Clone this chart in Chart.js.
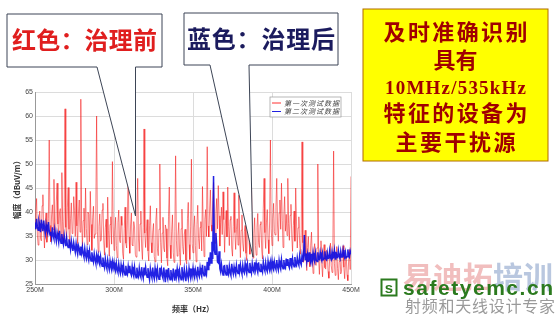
<!DOCTYPE html>
<html>
<head>
<meta charset="utf-8">
<script src="https://cdn.jsdelivr.net/npm/chart.js@4"></script>
<style>
  html, body { margin: 0; padding: 0; background: #fff; }
  #wrap { position: relative; width: 557px; height: 314px; overflow: hidden; }
  #chart { position: absolute; left: 0; top: 0; }
  #overlay { position: absolute; left: 0; top: 0; }
</style>
</head>
<body>
<div id="wrap">
  <canvas id="chart" width="557" height="314"></canvas>
  <svg id="overlay" width="557" height="314" xmlns="http://www.w3.org/2000/svg">
    <!-- callout: red -->
    <path d="M7,14 H162 V67 H135.5 L135.5,216 L97,67 H7 Z" fill="#fff" stroke="#3d4556" stroke-width="1"/>
    <text x="84.5" y="49" text-anchor="middle" font-family="Noto Sans CJK SC" font-weight="bold" font-size="24" fill="#e01e1e" textLength="145">红色：治理前</text>
    <!-- callout: blue -->
    <path d="M184,13 H338 V65 H249 L253,257 L210,65 H184 Z" fill="#fff" stroke="#3d4556" stroke-width="1"/>
    <text x="261" y="48" text-anchor="middle" font-family="Noto Sans CJK SC" font-weight="bold" font-size="24" fill="#1b1b5e" textLength="148">蓝色：治理后</text>

    <!-- legend -->
    <rect x="270" y="97" width="71" height="20" fill="#fff" stroke="#999" stroke-width="0.7"/>
    <line x1="272" y1="103" x2="281" y2="103" stroke="#ff3030" stroke-width="1"/>
    <line x1="272" y1="111.5" x2="281" y2="111.5" stroke="#2020e0" stroke-width="1"/>
    <text x="284" y="105.5" font-family="Noto Sans CJK SC" font-size="7" font-style="italic" fill="#444" textLength="55">第一次测试数据</text>
    <text x="284" y="114" font-family="Noto Sans CJK SC" font-size="7" font-style="italic" fill="#444" textLength="55">第二次测试数据</text>

    <!-- yellow note -->
    <rect x="363" y="9" width="185" height="152" fill="#ffff00" stroke="#b06a00" stroke-width="1"/>
    <g font-family="Noto Sans CJK SC" font-weight="bold" font-size="22" fill="#a00000" text-anchor="middle">
      <text x="455.5" y="40" textLength="144">及时准确识别</text>
      <text x="455.5" y="68">具有</text>
      <text x="455.5" y="121" textLength="144">特征的设备为</text>
      <text x="455.5" y="150" textLength="120">主要干扰源</text>
    </g>
    <text x="455.5" y="94" text-anchor="middle" font-family="Liberation Serif" font-weight="bold" font-size="19" fill="#a00000" textLength="141">10MHz/535kHz</text>

    <!-- watermark -->
    <text x="403" y="288" font-family="Noto Sans CJK SC" font-weight="bold" font-size="30" fill="rgba(225,110,110,0.45)" textLength="90">易迪拓</text>
    <text x="493" y="288" font-family="Noto Sans CJK SC" font-weight="bold" font-size="30" fill="rgba(100,130,185,0.45)" textLength="60">培训</text>
    <rect x="381.5" y="279.5" width="15" height="16" fill="#fff" stroke="#2b7a1e" stroke-width="2"/>
    <text x="389" y="293" text-anchor="middle" font-family="Liberation Sans" font-weight="bold" font-size="15" fill="#2b7a1e">s</text>
    <text x="403" y="295" font-family="Liberation Sans" font-weight="bold" font-size="21" fill="#2b7a1e" textLength="150">safetyemc.cn</text>
    <text x="405" y="312" font-family="Noto Sans CJK SC" font-size="16" fill="#9a9a9a" textLength="150">射频和天线设计专家</text>
  </svg>
</div>
<script>
// frequency grid: 250M .. 450M, 0.5 MHz per sample
const startMHz = 250;
const stepMHz = 0.5;
const xTicks = [250, 300, 350, 400, 450];
const yTicks = [25, 30, 35, 40, 45, 50, 55, 60, 65];

// 第一次测试数据 (red, before) - one row per 10 MHz
const redDb = [
  36.5, 40.1, 42.8, 35.2, 33.1, 38.4, 40.2, 34.6, 34.0, 41.3, 43.6, 36.0, 32.5, 37.9, 39.8, 33.7, 35.2, 38.6, 55.0, 37.2,
  33.8, 39.4, 41.5, 36.3, 46.8, 35.0, 34.6, 42.1, 46.0, 37.5, 35.1, 39.8, 40.7, 34.3, 48.2, 38.0, 33.5, 40.9, 61.5, 36.8,
  34.2, 41.0, 45.1, 36.4, 32.8, 38.7, 41.9, 35.5, 36.0, 43.2, 40.3, 34.9, 46.2, 37.1, 33.4, 39.6, 42.5, 35.8, 63.5, 38.3,
  32.9, 38.2, 40.8, 34.7, 45.0, 36.6, 33.2, 40.0, 39.5, 33.8, 44.3, 37.4, 32.0, 38.8, 41.2, 34.5, 35.4, 40.6, 60.0, 35.9,
  31.6, 37.0, 39.6, 33.9, 34.2, 40.4, 41.8, 34.1, 31.0, 36.7, 38.5, 32.6, 43.1, 36.2, 30.8, 37.4, 39.0, 33.3, 50.5, 36.9,
  32.0, 36.1, 38.9, 33.0, 30.5, 37.8, 40.4, 34.2, 33.6, 39.1, 37.2, 31.4, 30.2, 36.6, 41.0, 33.5, 32.5, 38.3, 50.0, 34.8,
  31.4, 37.3, 39.8, 33.1, 33.0, 38.0, 36.9, 31.2, 30.6, 40.5, 47.0, 34.4, 31.8, 37.5, 40.2, 32.7, 30.1, 36.8, 57.3, 35.6,
  32.6, 36.0, 38.4, 31.9, 29.8, 37.1, 41.3, 33.6, 31.5, 35.8, 37.6, 30.7, 29.6, 38.2, 40.8, 32.3, 30.9, 36.4, 50.0, 33.7,
  29.4, 35.6, 38.9, 32.5, 31.7, 37.3, 36.5, 30.4, 28.8, 39.0, 45.2, 33.1, 30.3, 36.0, 39.4, 31.6, 29.5, 35.9, 51.7, 34.0,
  30.8, 35.1, 37.8, 31.6, 28.9, 36.5, 40.6, 32.8, 31.2, 35.4, 36.4, 30.0, 29.2, 38.6, 42.0, 33.2, 30.1, 36.9, 51.0, 33.4,
  31.5, 36.7, 39.2, 33.0, 29.6, 37.4, 41.4, 34.5, 32.3, 36.8, 38.0, 31.9, 45.3, 36.2, 30.7, 38.5, 40.5, 34.9, 53.6, 37.1,
  34.8, 40.2, 44.6, 37.3, 36.0, 42.4, 46.2, 38.1, 33.5, 39.7, 42.8, 36.5, 45.5, 39.2, 32.9, 37.8, 41.0, 35.3, 44.2, 38.4,
  31.6, 37.5, 40.3, 34.8, 45.2, 36.9, 33.0, 38.4, 39.1, 32.5, 30.8, 37.0, 44.0, 35.7, 32.2, 36.3, 38.6, 33.1, 43.5, 35.4,
  30.5, 36.2, 39.4, 33.5, 31.8, 35.9, 37.2, 31.4, 29.9, 37.7, 40.1, 33.8, 31.2, 39.5, 46.0, 34.6, 30.4, 35.5, 38.8, 33.0,
  31.0, 36.8, 39.7, 33.6, 32.6, 37.4, 38.0, 32.1, 30.2, 40.8, 47.0, 35.7, 32.4, 37.9, 40.5, 34.2, 31.3, 38.1, 55.0, 36.5,
  33.0, 38.6, 41.8, 35.9, 35.2, 41.0, 47.0, 37.3, 33.9, 39.8, 42.5, 36.4, 46.0, 38.2, 32.6, 39.4, 43.2, 36.0, 39.5, 35.1,
  47.0, 37.6, 34.1, 39.3, 41.6, 35.0, 31.8, 37.2, 40.2, 33.9, 45.0, 38.1, 32.5, 36.7, 39.0, 33.4, 31.2, 35.8, 54.6, 33.6,
  29.5, 33.8, 36.2, 30.9, 27.8, 32.6, 34.9, 29.7, 28.6, 33.1, 35.8, 30.4, 27.2, 31.9, 33.4, 29.0, 28.9, 32.5, 50.0, 30.2,
  27.0, 31.5, 34.0, 29.1, 26.5, 30.8, 33.2, 28.4, 28.1, 32.0, 31.6, 27.6, 26.2, 30.5, 33.5, 28.8, 27.4, 31.3, 52.7, 29.3,
  26.8, 30.6, 32.8, 28.2, 25.9, 29.7, 31.4, 27.1, 27.6, 31.8, 33.0, 28.5, 26.1, 29.4, 30.8, 26.9, 25.7, 29.9, 32.2, 28.0,
  47.4
];

// 第二次测试数据 (blue, after) - one row per 10 MHz
const blueDb = [
  37.8, 36.4, 38.6, 36.9, 36.2, 38.1, 37.3, 35.8, 38.4, 37.0, 36.0, 38.2, 36.7, 35.5, 37.4, 36.3, 35.6, 37.9, 36.1, 35.2,
  35.9, 34.6, 36.8, 35.1, 34.4, 36.3, 35.0, 33.9, 35.7, 34.8, 33.7, 36.1, 34.2, 33.5, 35.4, 34.0, 33.2, 35.1, 33.8, 32.9,
  34.6, 33.1, 32.6, 34.3, 33.4, 32.2, 34.0, 32.8, 31.9, 33.6, 32.5, 31.6, 33.4, 32.1, 31.2, 33.0, 32.4, 31.1, 32.8, 31.5,
  32.7, 31.3, 30.6, 32.4, 31.0, 30.3, 32.1, 30.8, 30.0, 31.9, 30.5, 29.8, 31.6, 30.4, 29.6, 31.3, 30.1, 29.3, 31.0, 29.8,
  30.9, 29.5, 29.0, 30.7, 29.4, 28.7, 30.5, 29.1, 28.4, 30.3, 28.9, 28.2, 30.0, 28.8, 28.0, 29.8, 28.6, 27.9, 29.6, 28.4,
  29.5, 28.1, 27.6, 29.3, 28.0, 27.4, 29.2, 27.9, 27.2, 29.0, 27.8, 27.1, 28.9, 27.6, 26.9, 28.8, 27.5, 27.0, 28.7, 27.4,
  28.8, 27.3, 26.8, 28.6, 27.2, 26.6, 28.5, 27.1, 26.3, 28.4, 27.0, 26.5, 28.3, 26.9, 26.4, 28.5, 27.0, 26.2, 28.4, 26.8,
  28.5, 27.1, 26.4, 28.3, 26.9, 25.9, 28.2, 27.0, 26.3, 28.4, 26.8, 26.1, 28.3, 27.0, 26.2, 28.1, 26.7, 26.0, 28.4, 27.2,
  28.1, 26.7, 26.2, 28.4, 26.9, 25.4, 28.0, 26.8, 26.1, 28.3, 26.6, 25.9, 27.9, 26.5, 26.0, 28.2, 26.8, 25.7, 28.0, 26.6,
  28.2, 26.8, 26.0, 27.8, 26.6, 25.9, 28.5, 26.9, 26.2, 28.1, 26.7, 25.6, 28.0, 26.9, 26.1, 28.3, 27.0, 26.2, 28.2, 26.8,
  28.3, 26.9, 26.3, 28.0, 27.1, 26.4, 28.6, 27.0, 26.5, 28.4, 27.2, 26.6, 29.0, 27.3, 26.7, 28.8, 27.4, 26.9, 29.6, 28.0,
  30.5, 28.8, 31.6, 29.4, 33.8, 30.2, 47.5, 32.0, 31.2, 35.6, 33.0, 29.6, 29.4, 31.8, 28.2, 27.5, 29.1, 27.8, 26.9, 28.7,
  28.8, 27.4, 26.9, 29.0, 27.6, 27.0, 28.7, 27.4, 26.8, 29.2, 27.9, 27.1, 28.6, 27.5, 26.9, 28.9, 27.7, 27.2, 29.1, 27.6,
  29.0, 27.8, 27.1, 28.9, 27.7, 27.3, 29.3, 28.0, 27.2, 29.1, 27.9, 27.4, 29.4, 28.1, 27.3, 29.2, 27.9, 27.5, 29.5, 28.0,
  29.3, 28.1, 27.4, 29.5, 28.0, 27.6, 29.2, 28.2, 27.5, 29.6, 28.3, 27.7, 29.4, 28.1, 27.6, 29.7, 28.4, 27.8, 29.5, 28.2,
  29.8, 28.3, 27.9, 29.6, 28.5, 28.0, 30.0, 28.6, 27.9, 29.9, 28.7, 28.1, 30.1, 28.8, 28.2, 30.0, 28.6, 28.3, 30.3, 28.9,
  30.2, 28.9, 28.4, 30.4, 29.0, 28.5, 30.3, 29.2, 28.6, 30.6, 29.1, 28.8, 30.5, 29.4, 28.9, 30.8, 29.5, 29.0, 30.9, 29.6,
  31.0, 35.2, 30.1, 31.4, 29.7, 31.1, 29.6, 31.6, 30.0, 29.4, 31.3, 29.8, 31.5, 30.2, 29.6, 31.4, 30.0, 29.7, 31.6, 30.2,
  30.1, 31.6, 30.4, 29.9, 31.4, 30.1, 30.3, 31.8, 30.2, 30.0, 31.5, 30.3, 30.4, 31.9, 30.5, 30.1, 31.7, 30.4, 30.6, 32.0,
  30.2, 31.7, 30.6, 30.5, 32.0, 30.7, 30.3, 31.8, 30.6, 30.6, 32.1, 30.8, 30.4, 31.6, 30.5, 30.7, 32.2, 30.9, 30.6, 31.9,
  31.2
];

function toPoints(values) {
  return values.map((v, i) => ({ x: startMHz + i * stepMHz, y: v }));
}

const ctx = document.getElementById('chart').getContext('2d');
new Chart(ctx, {
  type: 'line',
  data: {
    datasets: [
      {
        label: '第一次测试数据',
        data: toPoints(redDb),
        borderColor: 'rgba(245,25,25,0.8)',
        borderWidth: 0.7,
        pointRadius: 0,
        order: 2
      },
      {
        label: '第二次测试数据',
        data: toPoints(blueDb),
        borderColor: 'rgba(10,10,225,0.9)',
        borderWidth: 1.5,
        pointRadius: 0,
        order: 1
      }
    ]
  },
  options: {
    responsive: false,
    animation: false,
    layout: { padding: { left: 12, top: 92, right: 206, bottom: 0 } },
    plugins: { legend: { display: false }, tooltip: { enabled: false } },
    scales: {
      x: {
        type: 'linear',
        min: xTicks[0],
        max: xTicks[xTicks.length - 1],
        afterBuildTicks: s => { s.ticks = xTicks.map(v => ({ value: v })); },
        afterFit: s => { s.height = 30; },
        ticks: { callback: v => v + 'M', font: { size: 7, family: 'Liberation Sans' }, color: '#444', padding: 2, maxRotation: 0 },
        grid: { color: '#dcdcdc', drawTicks: false },
        border: { color: '#999' },
        title: { display: true, text: '频率（Hz）', font: { size: 8, family: 'Noto Sans CJK SC', weight: 'bold' }, color: '#333', padding: 0 }
      },
      y: {
        min: yTicks[0],
        max: yTicks[yTicks.length - 1],
        afterBuildTicks: s => { s.ticks = yTicks.map(v => ({ value: v })); },
        afterFit: s => { s.width = 23; },
        ticks: { font: { size: 7, family: 'Liberation Sans' }, color: '#444', padding: 2 },
        grid: { color: '#dcdcdc', drawTicks: false },
        border: { color: '#999' },
        title: { display: true, text: '幅度（dBuV/m）', font: { size: 8, family: 'Noto Sans CJK SC', weight: 'bold' }, color: '#333', padding: 0 }
      }
    }
  }
});
</script>
</body>
</html>
